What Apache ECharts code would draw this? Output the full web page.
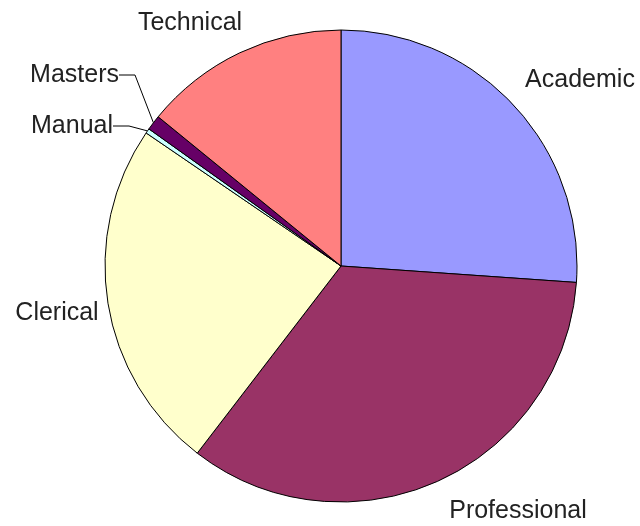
<!DOCTYPE html>
<html>
<head>
<meta charset="utf-8">
<script src="https://cdn.jsdelivr.net/npm/echarts@6/dist/echarts.min.js"></script>
<style>
html,body{margin:0;padding:0;background:#fff;}
#main{width:640px;height:526px;}
</style>
</head>
<body>
<div id="main"></div>
<script>
// Data (percent shares)
var categories = ['Academic', 'Professional', 'Clerical', 'Manual', 'Masters', 'Technical'];
var values = [26.1, 34.3, 24.1, 0.33, 1.03, 14.1];
var colors = ['#9999FF', '#993366', '#FFFFCC', '#CCFFFF', '#660066', '#FF8080'];
var withLeader = ['Manual', 'Masters'];

// Label placement (layout only)
var labelPos = {
  'Academic': [580, 80, 'center'],
  'Professional': [518, 511, 'center'],
  'Clerical': [57, 313, 'center'],
  'Manual': [113, 126, 'right'],
  'Masters': [119, 75, 'right'],
  'Technical': [190, 23, 'center']
};

var chart = echarts.init(document.getElementById('main'), null, {renderer: 'canvas'});
var data = categories.map(function (c, i) {
  var lead = withLeader.indexOf(c) >= 0;
  return {
    name: c,
    value: values[i],
    itemStyle: {color: colors[i]},
    labelLine: {show: lead, length: 10, length2: 16, lineStyle: {color: '#000', width: 1}}
  };
});

chart.setOption({
  backgroundColor: '#ffffff',
  animation: false,
  series: [{
    type: 'pie',
    center: [341, 266],
    radius: 236,
    startAngle: 90,
    clockwise: true,
    avoidLabelOverlap: false,
    itemStyle: {borderColor: '#000', borderWidth: 1},
    label: {
      show: true,
      position: 'outside',
      color: '#222',
      fontFamily: 'Liberation Sans, Arial, sans-serif',
      fontSize: 25,
      formatter: '{b}'
    },
    labelLine: {show: true},
    labelLayout: function (params) {
      var p = labelPos[categories[params.dataIndex]];
      return {x: p[0], y: p[1], align: p[2], verticalAlign: 'middle'};
    },
    emphasis: {disabled: true},
    data: data
  }]
});
</script>
</body>
</html>
